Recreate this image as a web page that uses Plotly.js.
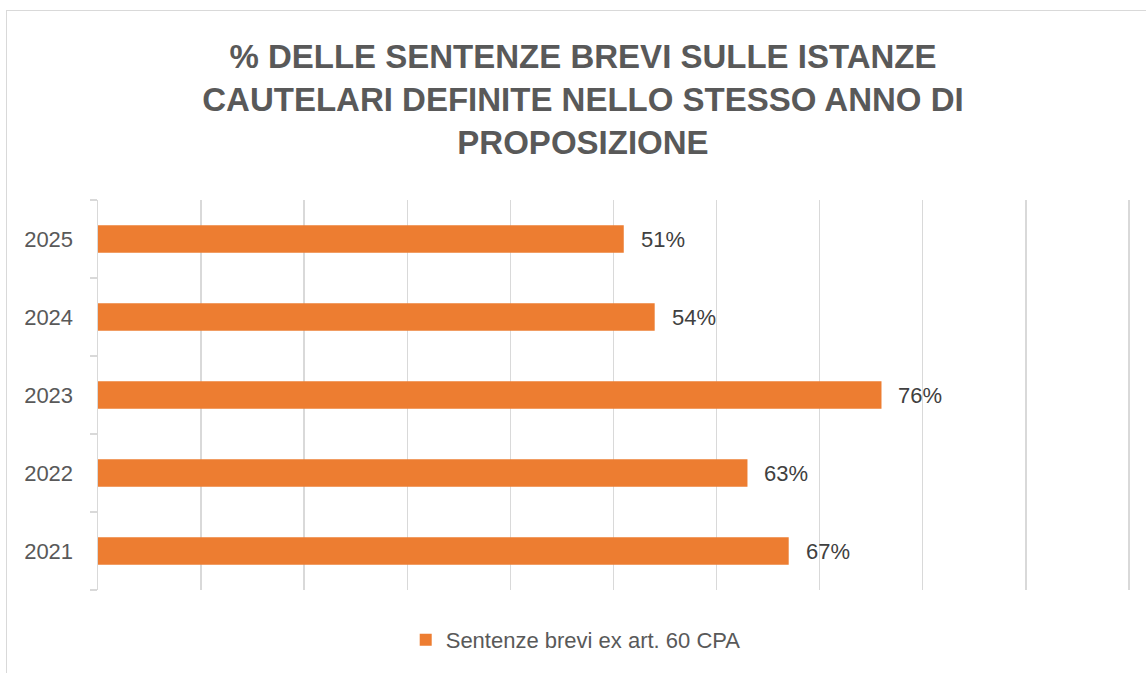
<!DOCTYPE html>
<html>
<head>
<meta charset="utf-8">
<script src="https://cdn.plot.ly/plotly-3.0.1.min.js"></script>
<style>
  html, body { margin: 0; padding: 0; overflow: hidden; background: #fff; }
  #chart { position: absolute; left: 0; top: 0; width: 1146px; height: 673px; }
  #frame { position: absolute; left: 6px; top: 10px; width: 1200px; height: 700px;
           border: 1.5px solid #d9d9d9; pointer-events: none; }
</style>
</head>
<body>
<div id="chart"></div>
<div id="frame"></div>
<script>
const titleText = "% DELLE SENTENZE BREVI SULLE ISTANZE<br>CAUTELARI DEFINITE NELLO STESSO ANNO DI<br>PROPOSIZIONE";
const seriesName = "Sentenze brevi ex art. 60 CPA";
const years = ["2021", "2022", "2023", "2024", "2025"];
const shares = [0.67, 0.63, 0.76, 0.54, 0.51];
const valueLabels = ["67%", "63%", "76%", "54%", "51%"];
const gridTicks = [0, 0.1, 0.2, 0.3, 0.4, 0.5, 0.6, 0.7, 0.8, 0.9, 1.0];

const FONT = "Liberation Sans, Arial, sans-serif";
const GRID = "#d9d9d9";

const trace = {
  type: "bar",
  orientation: "h",
  x: shares,
  y: years,
  name: seriesName,
  width: 0.35,
  marker: { color: "#ED7D31" },
  hoverinfo: "skip",
  showlegend: true
};

// on a category axis, annotation positions use the category serial number
const labelAnnotations = years.map((yr, i) => ({
  x: shares[i], y: i, xref: "x", yref: "y",
  text: valueLabels[i], showarrow: false,
  xanchor: "left", yanchor: "middle", xshift: 15,
  font: { family: FONT, size: 22, color: "#404040" }
}));

// Plotly drops the grid line at the far end of the axis; redraw it on the axis scale
const edgeGridTick = gridTicks[gridTicks.length - 1];
const edgeGridShape = {
  type: "line", xref: "x", yref: "paper",
  x0: edgeGridTick, x1: edgeGridTick, y0: 0, y1: 1,
  line: { color: GRID, width: 1.5 }, layer: "below"
};

const layout = {
  width: 1146, height: 673,
  paper_bgcolor: "rgba(0,0,0,0)",
  plot_bgcolor: "rgba(0,0,0,0)",
  margin: { l: 98, r: 14, t: 200, b: 81, pad: 0 },
  title: {
    text: titleText,
    font: { family: FONT, size: 33, color: "#595959", weight: "bold" },
    x: 0.5087, xref: "container", xanchor: "center",
    y: 0.899, yref: "container", yanchor: "middle"
  },
  xaxis: {
    range: [0, 1.003],
    tickmode: "array", tickvals: gridTicks,
    showticklabels: false,
    showgrid: true, gridcolor: GRID, gridwidth: 1.5,
    zeroline: false, showline: false, ticks: "",
    fixedrange: true
  },
  yaxis: {
    type: "category",
    categoryorder: "array", categoryarray: years,
    range: [-0.5, years.length - 0.5],
    showline: true, linecolor: GRID, linewidth: 1.5,
    ticks: "outside", ticklen: 7, tickcolor: GRID, tickwidth: 1.5,
    tickson: "boundaries",
    ticklabelstandoff: 19,
    showgrid: false, zeroline: false,
    tickfont: { family: FONT, size: 22, color: "#595959" },
    fixedrange: true
  },
  showlegend: true,
  legend: {
    orientation: "h",
    x: 0.462, xanchor: "center",
    y: -0.128, yanchor: "middle",
    font: { family: FONT, size: 22, color: "#595959" },
    itemwidth: 30
  },
  shapes: [edgeGridShape],
  annotations: labelAnnotations
};

Plotly.newPlot("chart", [trace], layout, { displayModeBar: false, staticPlot: true });
</script>
</body>
</html>
